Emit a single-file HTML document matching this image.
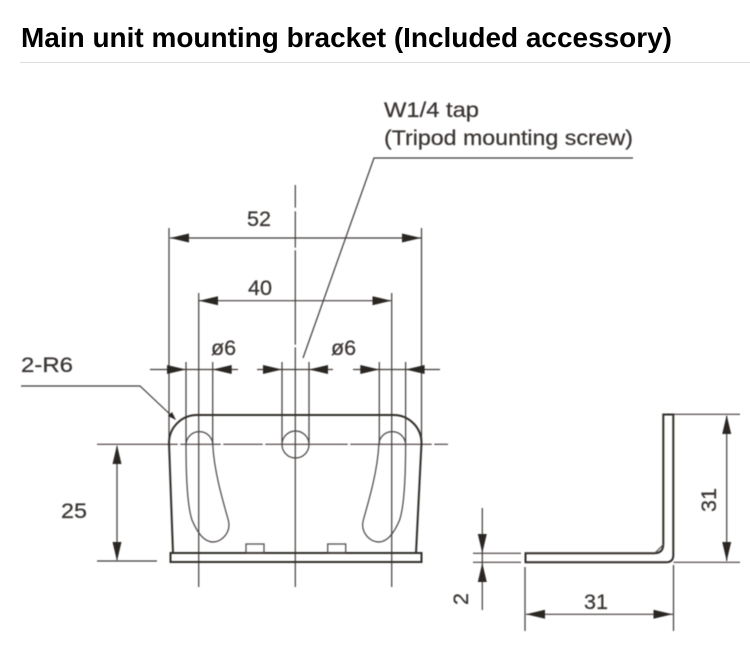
<!DOCTYPE html>
<html><head><meta charset="utf-8"><style>
html,body{margin:0;padding:0;background:#fff}
svg{display:block}
text{font-family:"Liberation Sans",Arial,sans-serif;fill:#3a3533}
.t{font-size:21.5px;stroke:#3a3533;stroke-width:.25}
.l{stroke:#403b39;stroke-width:1.2;fill:none}
.b{stroke:#332e2c;stroke-width:2;fill:none}
.s{stroke:#4a4543;stroke-width:1.2;fill:none}
.a{fill:#2a2523;stroke:none}
</style></head><body>
<svg width="750" height="664" viewBox="0 0 750 664" xmlns="http://www.w3.org/2000/svg">
<defs><filter id="f" x="-2%" y="-2%" width="104%" height="104%"><feGaussianBlur stdDeviation="0.45"/></filter></defs>
<rect width="750" height="664" fill="#fff"/>
<text x="21" y="47" font-size="28" font-weight="700" style="fill:#000" textLength="651" lengthAdjust="spacingAndGlyphs">Main unit mounting bracket (Included accessory)</text>
<rect x="20" y="62" width="730" height="1" fill="#ddd"/>
<g filter="url(#f)">
<path class="l" d="M169 228V440M421.500 228V440M198.700 293V587M391.700 293V587M295.300 185V587
M186 362V445M212.700 362V445M282 362V445M309 362V445M379.300 362V445M405.600 362V445
M150 369.500H238M257 369.500H333M353 369.500H440
M170 238H421M199 300.700H391
M97 444.300H448
M303 358L374 158H633
M21 386H140L175 419
M97 561H157
M117 446V560
M673.500 414.300H740M673.500 562.300H740M726.700 416V561
M525 567V631M673.500 565V631M526 614.300H673
M482.300 508V610M473 553.300H521M473 562.300H521"/>
<path d="M295.300 208V211M295.300 248V250M295.300 345V347" stroke="#fff" stroke-width="2" fill="none"/>
<path d="M178 444.300h2M221 444.300h2M263 444.300h2M348 444.300h2M432 444.300h2" stroke="#fff" stroke-width="1.500" fill="none"/>
<path class="b" d="M173 553L169 443A28 28 0 0 1 197 415H393A28 28 0 0 1 421.500 443L416 553"/>
<rect class="b" x="170.500" y="553" width="251" height="9"/>
<path class="s" d="M186 445A13.400 13.400 0 0 1 212.800 445C214 470 222 498 228 519C232 532 222 542 213 542C204 542 197 532 192 520C187 505 186 475 186 445Z"/>
<path class="s" d="M405.600 445A13.400 13.400 0 0 0 378.800 445C377.600 470 369.600 498 363.600 519C359.600 532 369.600 542 378.600 542C387.600 542 394.600 532 399.600 520C404.600 505 405.600 475 405.600 445Z"/>
<circle class="s" cx="295.500" cy="444.500" r="13.500"/>
<rect class="s" x="246" y="544" width="18" height="9"/>
<rect class="s" x="327.700" y="544" width="18" height="9"/>
<path class="b" d="M663.300 414.500H673.300V555Q673.300 562.300 666 562.300H525.500V553.300H654Q663.300 553.300 663.300 544Z"/>
<path class="s" d="M655 553L664 544"/>
<path class="a" d="M170 238l19-4.500v9zM421 238l-19-4.500v9z
M199 300.700l19-4.500v9zM391.500 300.700l-19-4.500v9z
M186 369.500l-19-4.500v9zM212.700 369.500l19-4.500v9z
M282 369.500l-19-4.500v9zM309 369.500l19-4.500v9z
M379.300 369.500l-19-4.500v9zM405.600 369.500l19-4.500v9z
M117 445l-4.500 19h9zM117 561l-4.500-19h9z
M726.700 415l-4.500 19h9zM726.700 561l-4.500-19h9z
M526 614.300l19-4.500v9zM672.500 614.300l-19-4.500v9z
M482.300 553l-4.500-19h9zM482.300 563l-4.500 19h9z
M176 420l-8-4 4-4z"/>
<text class="t" x="247" y="226" textLength="24" lengthAdjust="spacingAndGlyphs">52</text>
<text class="t" x="248" y="295" textLength="24" lengthAdjust="spacingAndGlyphs">40</text>
<text class="t" x="211" y="355">ø6</text>
<text class="t" x="331" y="355">ø6</text>
<text class="t" x="21" y="372" textLength="52" lengthAdjust="spacingAndGlyphs">2-R6</text>
<text class="t" x="61" y="518" textLength="26" lengthAdjust="spacingAndGlyphs">25</text>
<text class="t" x="584" y="609" textLength="24" lengthAdjust="spacingAndGlyphs">31</text>
<text class="t" transform="translate(716 512) rotate(-90)" textLength="24" lengthAdjust="spacingAndGlyphs">31</text>
<text class="t" transform="translate(468 605) rotate(-90)">2</text>
<text class="t" x="384" y="117" textLength="95" lengthAdjust="spacingAndGlyphs">W1/4 tap</text>
<text class="t" x="384" y="145" textLength="249" lengthAdjust="spacingAndGlyphs">(Tripod mounting screw)</text>
</g>
</svg>
</body></html>
